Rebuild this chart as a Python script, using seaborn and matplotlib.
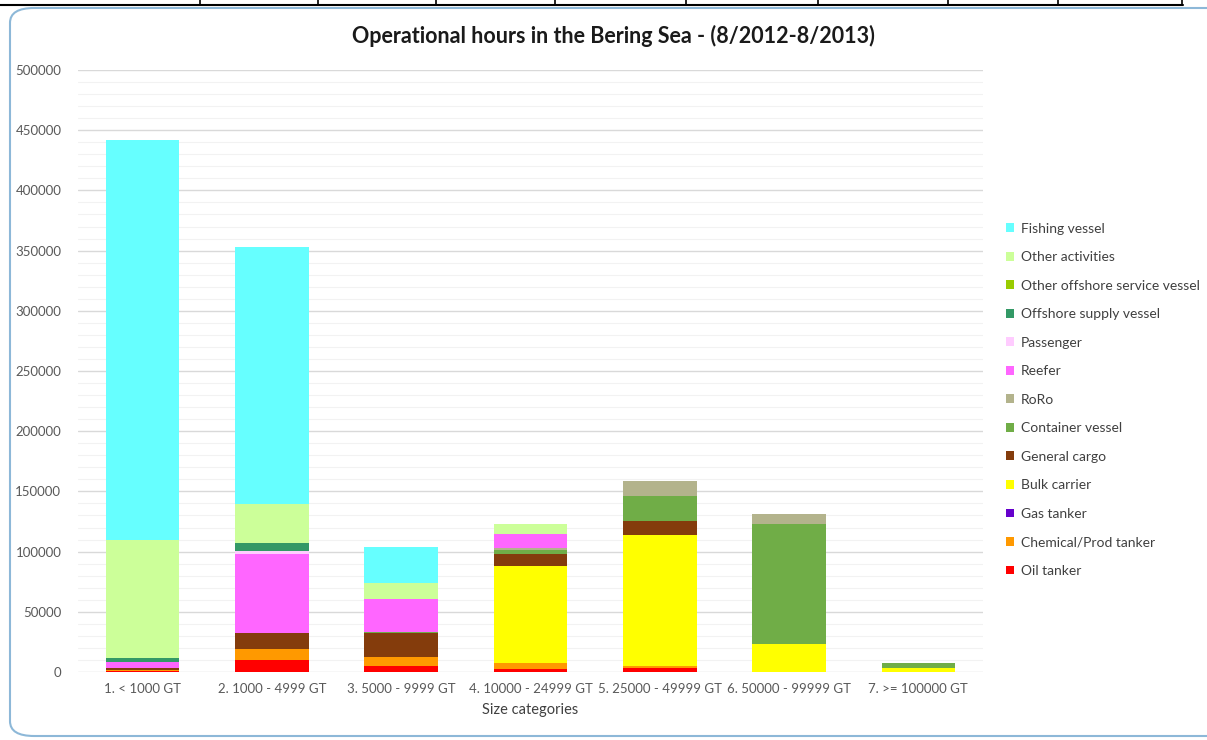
# -------------- IMPORTS -------------------#

import numpy as np
import pandas as pd
import seaborn as sns
import matplotlib.pyplot as plt
from matplotlib.patches import FancyBboxPatch
from matplotlib.lines import Line2D

# -------------- DATA -------------------#

categories = ["1. < 1000 GT", "2. 1000 - 4999 GT", "3. 5000 - 9999 GT",
              "4. 10000 - 24999 GT", "5. 25000 - 49999 GT",
              "6. 50000 - 99999 GT", "7. >= 100000 GT"]

# hours per vessel type, one value per size category (bottom of the stack first)
oil_tanker = [800, 10000, 5000, 2200, 3500, 0, 0]
chemical_tanker = [1200, 8900, 7700, 5500, 1500, 0, 0]
gas_tanker = [0, 0, 0, 0, 0, 0, 0]
bulk_carrier = [0, 0, 0, 80600, 108800, 23000, 3500]
general_cargo = [1500, 13800, 19500, 9500, 11600, 0, 0]
container_vessel = [0, 0, 1300, 3500, 21000, 99700, 3800]
roro = [0, 0, 0, 2000, 12200, 8500, 0]
reefer = [5000, 65200, 27000, 11100, 0, 0, 0]
passenger = [0, 2700, 0, 0, 0, 0, 0]
offshore_supply = [3500, 6400, 0, 0, 0, 0, 0]
other_offshore = [0, 0, 0, 0, 0, 0, 0]
other_activities = [98000, 32600, 13600, 8500, 0, 0, 0]
fishing_vessel = [332200, 213500, 29900, 0, 0, 0, 0]

series_names = ["Oil tanker", "Chemical/Prod tanker", "Gas tanker", "Bulk carrier",
                "General cargo", "Container vessel", "RoRo", "Reefer", "Passenger",
                "Offshore supply vessel", "Other offshore service vessel",
                "Other activities", "Fishing vessel"]
series_values = [oil_tanker, chemical_tanker, gas_tanker, bulk_carrier, general_cargo,
                 container_vessel, roro, reefer, passenger, offshore_supply,
                 other_offshore, other_activities, fishing_vessel]
series_colors = ["#ff0000", "#ff9900", "#6600cc", "#ffff00", "#843c0c", "#70ad47",
                 "#b3b38c", "#ff66ff", "#ffccff", "#339966", "#99cc00",
                 "#ccff99", "#66ffff"]

df = pd.DataFrame(dict(zip(series_names, series_values)), index=categories)
cumul = df.cumsum(axis=1)

# -------------- FIGURE -------------------#

sns.set_theme(style="white")
plt.rcParams["font.family"] = ["Lato", "DejaVu Sans"]

fig = plt.figure(figsize=(12.07, 7.40), dpi=100)
ax = fig.add_axes([78 / 1207, 1 - 672 / 740, 905 / 1207, 602 / 740])

# grid first (minor every 10000, major every 50000)
for y in range(0, 500001, 10000):
    if y % 50000 == 0:
        ax.axhline(y, color="#d9d9d9", lw=1, zorder=0)
    else:
        ax.axhline(y, color="#f2f2f2", lw=0.8, zorder=0)

# stacked bars : draw cumulative totals from top series down
for name, color in zip(series_names[::-1], series_colors[::-1]):
    plot_df = pd.DataFrame({"cat": categories, "val": cumul[name].values})
    sns.barplot(data=plot_df, x="cat", y="val", color=color, width=0.57,
                saturation=1, ax=ax, label=name, zorder=2, linewidth=0)

if ax.get_legend() is not None:
    ax.get_legend().remove()

ax.set_ylim(0, 500000)
ax.set_xlim(-0.5, 6.5)
ax.set_yticks(range(0, 500001, 50000))
ax.tick_params(axis="both", length=0, labelsize=9.5, labelcolor="#595959")
ax.tick_params(axis="x", pad=8)
ax.tick_params(axis="y", pad=12)
ax.set_xlabel("Size categories", fontsize=10.5, color="#404040", labelpad=6)
ax.set_ylabel("")
for s in ax.spines.values():
    s.set_visible(False)

fig.text(613 / 1207, 1 - 36 / 740, "Operational hours in the Bering Sea - (8/2012-8/2013)",
         ha="center", va="center", fontsize=15.5, fontweight="bold", color="#1a1a1a")

handles, labels = ax.get_legend_handles_labels()
leg = fig.legend(handles, labels, loc="upper left",
                 bbox_to_anchor=(1000 / 1207, 1 - 217 / 740),
                 frameon=False, fontsize=10, labelcolor="#404040",
                 handlelength=0.6, handleheight=0.6, handletextpad=0.5,
                 labelspacing=1.19, borderaxespad=0)

# -------------- DECORATION -------------------#

border = FancyBboxPatch((10 / 1207, 4 / 740), 1.05, 728 / 740,
                        boxstyle="round,pad=0,rounding_size=0.02",
                        transform=fig.transFigure, fill=False,
                        edgecolor="#8db8d8", lw=1.5, zorder=-1)
fig.patches.append(border)

# table lines above the chart
fig.add_artist(Line2D([0, 1183 / 1207], [1 - 5 / 740, 1 - 5 / 740],
                      color="black", lw=1.5, transform=fig.transFigure))
for xv in [200, 318, 436, 555, 686, 818, 948, 1058, 1182]:
    fig.add_artist(Line2D([xv / 1207, xv / 1207], [1, 1 - 5 / 740],
                          color="black", lw=1.2, transform=fig.transFigure))

plt.savefig("out.png", dpi=100)
plt.close()
